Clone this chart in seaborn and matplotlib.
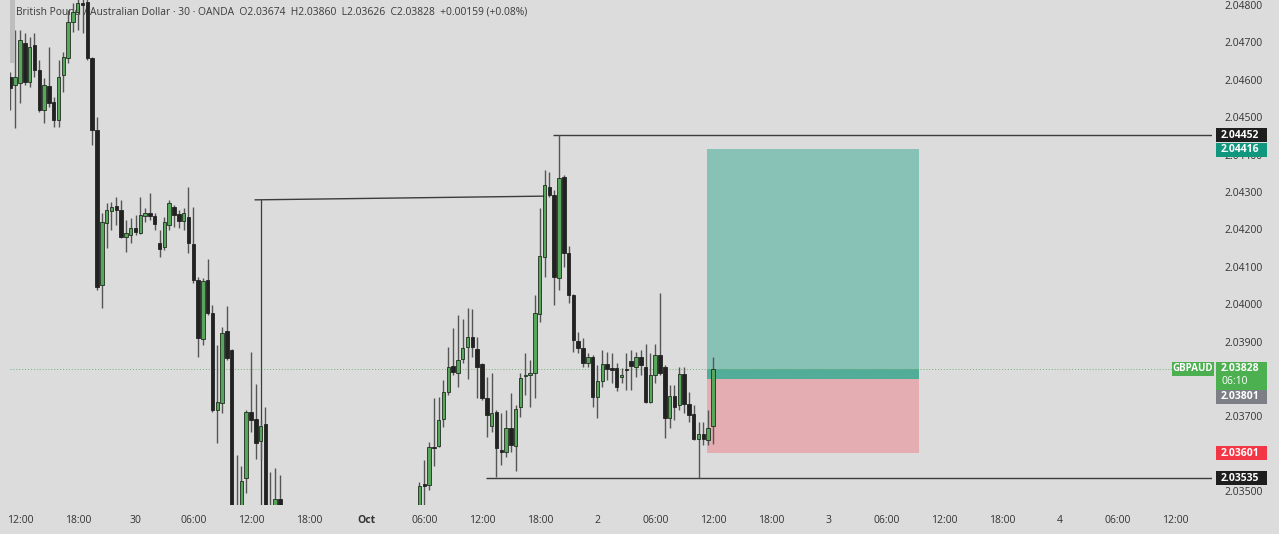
import numpy as np
import pandas as pd
import matplotlib
matplotlib.use("Agg")
import matplotlib.pyplot as plt
import seaborn as sns
from matplotlib.patches import Rectangle

# ---------------- data (30-minute candles, GBPAUD, OANDA) ----------------
bar_index = list(range(-2, 145))   # bar 0 = 29 Sep 12:00, one bar = 30 min

opens = [
    2.04607, 2.04586, 2.04591, 2.04698, 2.04594, 2.04693, 2.04626, 2.04519, 2.04583, 2.04541,
    2.04493, 2.04613, 2.04658, 2.04755, 2.04781, 2.04805, 2.04808, 2.04658, 2.04466, 2.04051,
    2.04217, 2.04249, 2.04263, 2.04252, 2.04180, 2.04185, 2.04203, 2.04190, 2.04236, 2.04244,
    2.04236, 2.04164, 2.04153, 2.04212, 2.04260, 2.04241, 2.04222, 2.04233, 2.04161, 2.04065,
    2.03907, 2.04065, 2.03976, 2.03717, 2.03736, 2.03928, 2.03878, 2.03430, 2.03410, 2.03535,
    2.03712, 2.03693, 2.03634, 2.03680, 2.03430, 2.03420, 2.03479, 2.03440, 2.03400, 2.03370,
    2.03390, 2.03340, 2.03310, 2.03330, 2.03290, 2.03260, 2.03280, 2.03240, 2.03220, 2.03250,
    2.03230, 2.03260, 2.03240, 2.03280, 2.03300, 2.03270, 2.03310, 2.03330, 2.03310, 2.03350,
    2.03370, 2.03340, 2.03380, 2.03400, 2.03390, 2.03420, 2.03519, 2.03517, 2.03618, 2.03621,
    2.03693, 2.03765, 2.03834, 2.03816, 2.03853, 2.03886, 2.03912, 2.03880, 2.03840, 2.03749,
    2.03674, 2.03712, 2.03610, 2.03605, 2.03669, 2.03621, 2.03725, 2.03808, 2.03811, 2.03816,
    2.03973, 2.04126, 2.04313, 2.04292, 2.04070, 2.04340, 2.04137, 2.04025, 2.03902, 2.03883,
    2.03843, 2.03859, 2.03752, 2.03795, 2.03840, 2.03829, 2.03829, 2.03805, 2.03826, 2.03848,
    2.03832, 2.03859, 2.03832, 2.03739, 2.03811, 2.03864, 2.03832, 2.03696, 2.03755, 2.03730,
    2.03813, 2.03733, 2.03707, 2.03640, 2.03653, 2.03637, 2.03674,
]
highs = [
    2.04621, 2.04733, 2.04733, 2.04725, 2.04714, 2.04725, 2.04653, 2.04605, 2.04688, 2.04554,
    2.04653, 2.04674, 2.04787, 2.04805, 2.04830, 2.04830, 2.04835, 2.04661, 2.04501, 2.04244,
    2.04271, 2.04273, 2.04287, 2.04279, 2.04225, 2.04231, 2.04239, 2.04287, 2.04257, 2.04297,
    2.04244, 2.04198, 2.04233, 2.04279, 2.04265, 2.04252, 2.04257, 2.04313, 2.04260, 2.04073,
    2.04070, 2.04121, 2.03998, 2.03891, 2.03939, 2.03995, 2.03880, 2.03597, 2.03567, 2.03717,
    2.03872, 2.03787, 2.03690, 2.03725, 2.03551, 2.03561, 2.03543, 2.03452, 2.03430, 2.03410,
    2.03400, 2.03360, 2.03350, 2.03345, 2.03310, 2.03300, 2.03290, 2.03260, 2.03270, 2.03260,
    2.03280, 2.03270, 2.03300, 2.03320, 2.03310, 2.03330, 2.03350, 2.03340, 2.03370, 2.03390,
    2.03380, 2.03400, 2.03420, 2.03410, 2.03440, 2.03525, 2.03583, 2.03632, 2.03749, 2.03752,
    2.03797, 2.03886, 2.03936, 2.03971, 2.03960, 2.03990, 2.03987, 2.03912, 2.03843, 2.03805,
    2.03816, 2.03717, 2.03709, 2.03717, 2.03763, 2.03730, 2.03816, 2.03870, 2.03851, 2.04025,
    2.04257, 2.04359, 2.04353, 2.04305, 2.04452, 2.04345, 2.04156, 2.04028, 2.03926, 2.03910,
    2.03870, 2.03864, 2.03837, 2.03878, 2.03872, 2.03870, 2.03843, 2.03829, 2.03870, 2.03878,
    2.03872, 2.03878, 2.03894, 2.03870, 2.03894, 2.04030, 2.03837, 2.03784, 2.03784, 2.03832,
    2.03832, 2.03765, 2.03730, 2.03685, 2.03685, 2.03717, 2.03860,
]
lows = [
    2.04519, 2.04471, 2.04538, 2.04586, 2.04581, 2.04607, 2.04514, 2.04484, 2.04527, 2.04474,
    2.04474, 2.04567, 2.04645, 2.04728, 2.04733, 2.04725, 2.04653, 2.04426, 2.04038, 2.03990,
    2.04150, 2.04198, 2.04212, 2.04177, 2.04140, 2.04164, 2.04185, 2.04188, 2.04219, 2.04225,
    2.04198, 2.04126, 2.04145, 2.04198, 2.04206, 2.04203, 2.04198, 2.04137, 2.04057, 2.03859,
    2.03891, 2.03971, 2.03712, 2.03629, 2.03709, 2.03851, 2.03400, 2.03380, 2.03390, 2.03495,
    2.03658, 2.03586, 2.03583, 2.03410, 2.03390, 2.03400, 2.03410, 2.03380, 2.03350, 2.03355,
    2.03320, 2.03290, 2.03300, 2.03270, 2.03240, 2.03250, 2.03220, 2.03200, 2.03210, 2.03210,
    2.03220, 2.03225, 2.03230, 2.03270, 2.03250, 2.03260, 2.03300, 2.03290, 2.03300, 2.03340,
    2.03320, 2.03330, 2.03370, 2.03360, 2.03380, 2.03400, 2.03458, 2.03503, 2.03567, 2.03618,
    2.03672, 2.03757, 2.03811, 2.03779, 2.03843, 2.03800, 2.03859, 2.03749, 2.03744, 2.03644,
    2.03658, 2.03537, 2.03570, 2.03591, 2.03605, 2.03553, 2.03698, 2.03757, 2.03725, 2.03749,
    2.03952, 2.04073, 2.04287, 2.03998, 2.04038, 2.04099, 2.04003, 2.03872, 2.03870, 2.03832,
    2.03832, 2.03725, 2.03696, 2.03779, 2.03797, 2.03789, 2.03768, 2.03789, 2.03771, 2.03771,
    2.03805, 2.03811, 2.03736, 2.03736, 2.03789, 2.03811, 2.03642, 2.03669, 2.03690, 2.03717,
    2.03709, 2.03685, 2.03637, 2.03535, 2.03624, 2.03624, 2.03626,
]
closes = [
    2.04578, 2.04607, 2.04706, 2.04594, 2.04688, 2.04626, 2.04519, 2.04586, 2.04538, 2.04493,
    2.04607, 2.04661, 2.04755, 2.04781, 2.04805, 2.04800, 2.04658, 2.04466, 2.04046, 2.04219,
    2.04252, 2.04260, 2.04252, 2.04180, 2.04190, 2.04203, 2.04193, 2.04239, 2.04244, 2.04236,
    2.04214, 2.04148, 2.04219, 2.04271, 2.04239, 2.04222, 2.04244, 2.04164, 2.04065, 2.03910,
    2.04062, 2.03976, 2.03717, 2.03739, 2.03923, 2.03856, 2.03420, 2.03400, 2.03527, 2.03712,
    2.03690, 2.03629, 2.03674, 2.03430, 2.03420, 2.03479, 2.03440, 2.03400, 2.03370, 2.03390,
    2.03340, 2.03310, 2.03330, 2.03290, 2.03260, 2.03280, 2.03240, 2.03220, 2.03250, 2.03230,
    2.03260, 2.03240, 2.03280, 2.03300, 2.03270, 2.03310, 2.03330, 2.03310, 2.03350, 2.03370,
    2.03340, 2.03380, 2.03400, 2.03390, 2.03420, 2.03514, 2.03514, 2.03618, 2.03616, 2.03690,
    2.03765, 2.03832, 2.03818, 2.03851, 2.03883, 2.03912, 2.03886, 2.03832, 2.03749, 2.03704,
    2.03709, 2.03616, 2.03605, 2.03669, 2.03624, 2.03720, 2.03803, 2.03811, 2.03816, 2.03976,
    2.04129, 2.04319, 2.04292, 2.04073, 2.04337, 2.04137, 2.04025, 2.03904, 2.03883, 2.03843,
    2.03859, 2.03752, 2.03795, 2.03840, 2.03826, 2.03824, 2.03779, 2.03811, 2.03824, 2.03834,
    2.03859, 2.03837, 2.03739, 2.03811, 2.03864, 2.03816, 2.03696, 2.03755, 2.03725, 2.03813,
    2.03733, 2.03704, 2.03640, 2.03653, 2.03640, 2.03669, 2.03828,
]

y_ticks = [2.035, 2.036, 2.037, 2.038, 2.039, 2.040, 2.041, 2.042, 2.043, 2.044,
           2.045, 2.046, 2.047, 2.048]
# 2.03600 and 2.03800 sit under the red / green price boxes in the reference
y_tick_labels = ["2.03500", "", "2.03700", "", "2.03900", "2.04000", "2.04100",
                 "2.04200", "2.04300", "2.04400", "2.04500", "2.04600", "2.04700", "2.04800"]
x_tick_bars = [0, 12, 24, 36, 48, 60, 72, 84, 96, 108, 120, 132, 144, 156, 168,
               180, 192, 204, 216, 228, 240]
x_tick_labels = ["12:00", "18:00", "30", "06:00", "12:00", "18:00", "Oct", "06:00",
                 "12:00", "18:00", "2", "06:00", "12:00", "18:00", "3", "06:00",
                 "12:00", "18:00", "4", "06:00", "12:00"]

title_text = ("British Pound / Australian Dollar \u00b7 30 \u00b7 OANDA  O2.03674  H2.03860  "
              "L2.03626  C2.03828  +0.00159 (+0.08%)")

current_price = 2.03828
entry_price = 2.03801
target_price = 2.04416
stop_price = 2.03601
resistance_level = 2.04452
support_level = 2.03535
trend_line_prices = [2.04279, 2.04289]

df = pd.DataFrame({"bar": bar_index, "open": opens, "high": highs,
                   "low": lows, "close": closes})
df["up"] = df["close"] >= df["open"]

# ---------------- figure ----------------
W, H = 1279, 534
BG = "#dcdcdc"
sns.set_theme(style="white")
plt.rcParams["font.family"] = ["Open Sans", "DejaVu Sans"]

fig = plt.figure(figsize=(W / 100, H / 100), dpi=100, facecolor=BG)
ax = fig.add_axes([10 / W, (H - 505) / H, (1212 - 10) / W, 505 / H])
ax.set_facecolor(BG)
for s in ax.spines.values():
    s.set_visible(False)

x_min, x_max = -2.08, 247.7
y_min, y_max = 2.034631, 2.048134
ax.set_xlim(x_min, x_max)
ax.set_ylim(y_min, y_max)

# position tool boxes
box_start, box_end = 142.75, 186.8
ax.add_patch(Rectangle((box_start, entry_price), box_end - box_start,
                       target_price - entry_price, fc="#88c1b5", ec="none", zorder=1))
ax.add_patch(Rectangle((box_start, entry_price), box_end - box_start,
                       current_price - entry_price, fc="#52ad98", ec="none", zorder=1.1))
ax.add_patch(Rectangle((box_start, stop_price), box_end - box_start,
                       entry_price - stop_price, fc="#e3adb1", ec="none", zorder=1))

# current price dotted line
sns.lineplot(x=[x_min, x_max], y=[current_price, current_price], ax=ax,
             color="#6db66f", lw=0.7, linestyle=(0, (1, 2)), zorder=1.5)

# drawn lines
ax.plot([48.83, 109.1], trend_line_prices, color="#3c3c3c", lw=1.0, zorder=1.6)
ax.plot([50.0, 50.0], [y_min, trend_line_prices[0]], color="#3c3c3c", lw=0.9, zorder=1.6)
ax.hlines(resistance_level, 110.75, x_max, color="#3c3c3c", lw=1.0, zorder=1.6)
ax.hlines(support_level, 96.8, x_max, color="#3c3c3c", lw=1.0, zorder=1.6)

# title (under candles)
ax.text((16 - 10) / 1202, 1 - 12 / 505, title_text, transform=ax.transAxes,
        fontsize=7.4, color="#3a3a3a", va="center", ha="left", zorder=0.5)

# candles
GREEN = "#58a65c"
DARK = "#222222"
ax.vlines(df["bar"], df["low"], df["high"], color="#555555", lw=1.0, zorder=2)
bw = 0.72
up = df[df["up"]]
dn = df[~df["up"]]
ax.bar(up["bar"], np.maximum(up["close"] - up["open"], 0.00002), bottom=up["open"],
       width=bw, color=GREEN, edgecolor="#1f2f1f", linewidth=0.6, zorder=3)
ax.bar(dn["bar"], np.maximum(dn["open"] - dn["close"], 0.00002), bottom=dn["close"],
       width=bw, color=DARK, edgecolor=DARK, linewidth=0.6, zorder=3)

# axes ticks
ax.yaxis.tick_right()
ax.set_yticks(y_ticks)
ax.set_yticklabels(y_tick_labels)
ax.tick_params(axis="y", length=0, pad=9, labelsize=7.5, labelcolor="#333333")
ax.set_xticks(x_tick_bars)
ax.set_xticklabels(x_tick_labels)
ax.tick_params(axis="x", length=0, pad=7, labelsize=7.5, labelcolor="#333333")
ax.get_xticklabels()[6].set_fontweight("bold")
ax.grid(False)

# small grey panel handle at the top-left edge
fig.add_artist(Rectangle((10 / W, (H - 63) / H), 5 / W, 63 / H, transform=fig.transFigure,
                         fc="#bdbdbd", ec="none", zorder=0.5))


# price labels on the right scale
def price_label(text, price, fc, dy=0.0, h=14, x0=1216, w=51, tx=1221):
    yd = ax.transData.transform((0, price))[1] - dy
    fig.add_artist(Rectangle((x0 / W, (yd - h / 2) / H), w / W, h / H,
                             transform=fig.transFigure, fc=fc, ec="none", zorder=10))
    fig.text(tx / W, yd / H, text, color="white", fontsize=7.5, fontweight="bold",
             va="center", ha="left", zorder=11)


price_label(f"{resistance_level:.5f}", resistance_level, "#1e1e1e")
price_label(f"{target_price:.5f}", target_price, "#12977f", dy=1)
# current price box (two lines)
yd = ax.transData.transform((0, current_price))[1]
fig.add_artist(Rectangle((1216 / W, (yd - 21) / H), 51 / W, 28 / H,
                         transform=fig.transFigure, fc="#4caf50", ec="none", zorder=10))
fig.text(1221 / W, yd / H, f"{current_price:.5f}", color="white", fontsize=7.5,
         fontweight="bold", va="center", ha="left", zorder=11)
fig.text(1221 / W, (yd - 13) / H, "06:10", color="white", fontsize=7.5,
         va="center", ha="left", zorder=11)
fig.add_artist(Rectangle((1172 / W, (yd - 7) / H), 42 / W, 14 / H,
                         transform=fig.transFigure, fc="#4caf50", ec="none", zorder=10))
fig.text(1193 / W, yd / H, "GBPAUD", color="white", fontsize=7.0, fontweight="bold",
         va="center", ha="center", zorder=11)
price_label(f"{entry_price:.5f}", entry_price, "#7d7f86", dy=18)
price_label(f"{stop_price:.5f}", stop_price, "#f23645")
price_label(f"{support_level:.5f}", support_level, "#1e1e1e")

fig.savefig("out.png", dpi=100, facecolor=BG)
